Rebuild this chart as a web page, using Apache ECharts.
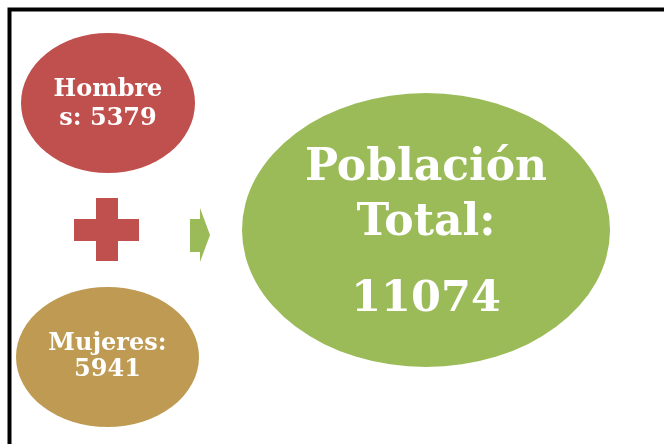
<!DOCTYPE html>
<html>
<head>
<meta charset="utf-8">
<script src="https://cdn.jsdelivr.net/npm/echarts@6/dist/echarts.min.js"></script>
<style>
  html, body { margin: 0; padding: 0; background: #fff; }
  #chart { width: 664px; height: 444px; }
</style>
</head>
<body>
<div id="chart"></div>
<script>
// data
var labels = ['Hombre\ns', 'Mujeres', 'Población\nTotal'];
var values = [5379, 5941, 11074];
var colors = ['#C0504D', '#BE9A52', '#9BBB59'];

// layout of the diagram (pixel space of the hidden axes)
var centers = [[108, 103], [107.5, 357], [426, 230]];
var sizes = [[174, 140], [183, 140], [368, 274]];

var chart = echarts.init(document.getElementById('chart'));

var font = 'DejaVu Serif';

var seriesData = values.map(function (v, i) {
  var lab;
  if (i < 2) {
    lab = {
      show: true, position: 'inside',
      formatter: labels[i] + (i === 0 ? ': ' : ':\n') + v,
      fontFamily: font, fontWeight: 'bold', fontSize: 24, color: '#fff',
      lineHeight: i === 0 ? 29 : 26,
      offset: [0, i === 0 ? 1 : 0]
    };
  } else {
    var parts = labels[i].split('\n');
    lab = {
      show: true, position: 'inside',
      formatter: '{a|' + parts[0] + '}\n{a|' + parts[1] + ':}\n{b|' + v + '}',
      offset: [0, 15],
      rich: {
        a: { fontFamily: font, fontWeight: 'bold', fontSize: 44, color: '#fff', lineHeight: 55 },
        b: { fontFamily: font, fontWeight: 'bold', fontSize: 43, color: '#fff', lineHeight: 97 }
      }
    };
  }
  return {
    value: centers[i],
    symbolSize: sizes[i],
    itemStyle: { color: colors[i], opacity: 1 },
    label: lab
  };
});

var option = {
  animation: false,
  backgroundColor: '#fff',
  grid: { left: 0, right: 0, top: 0, bottom: 0 },
  xAxis: { type: 'value', min: 0, max: 664, show: false },
  yAxis: { type: 'value', min: 0, max: 444, inverse: true, show: false },
  graphic: [
    {
      type: 'polyline', silent: true,
      shape: { points: [[9.5, 444], [9.5, 9.5], [664, 9.5]] },
      style: { stroke: '#000', lineWidth: 4, fill: null }
    },
    {
      type: 'polygon', silent: true,
      shape: { points: [[96, 198], [118, 198], [118, 219], [139, 219], [139, 241], [118, 241],
                        [118, 261], [96, 261], [96, 241], [74, 241], [74, 219], [96, 219]] },
      style: { fill: '#C0504D' }
    },
    {
      type: 'polygon', silent: true,
      shape: { points: [[190, 219], [200, 219], [200, 208], [210, 235], [200, 262], [200, 252], [190, 252]] },
      style: { fill: '#9BBB59' }
    }
  ],
  series: [{
    type: 'scatter',
    symbol: 'circle',
    silent: true,
    itemStyle: { opacity: 1 },
    data: seriesData
  }]
};
chart.setOption(option);
</script>
</body>
</html>
